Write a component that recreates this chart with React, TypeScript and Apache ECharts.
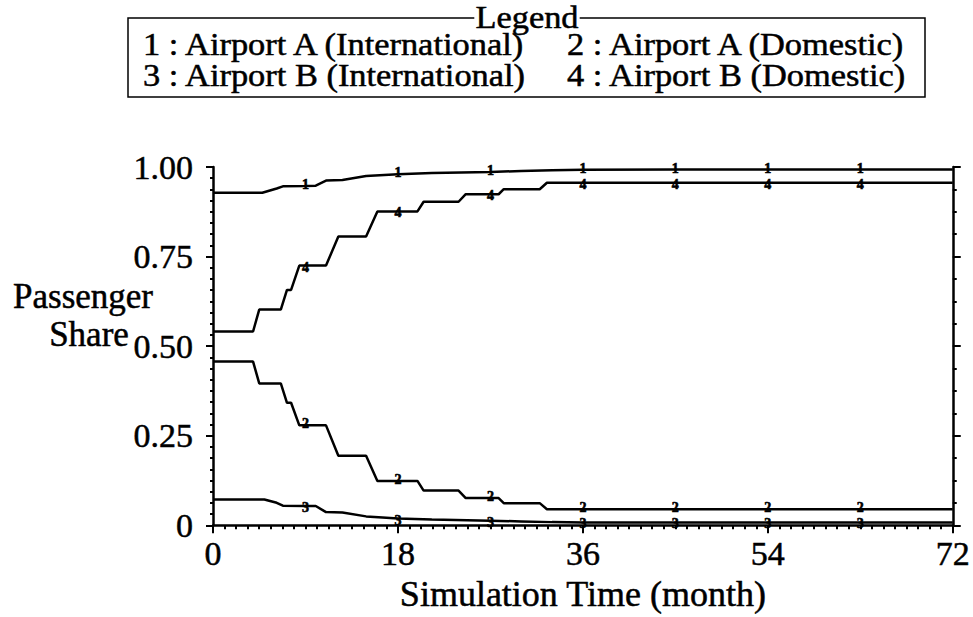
import React, { useEffect, useRef } from "react";
import * as echarts from "echarts";

const FONT = '"Liberation Serif", "Times New Roman", serif';

const markerMonths = [9, 18, 27, 36, 45, 54, 63];
const xTickLabels = [0, 18, 36, 54, 72];
const yTickLabels = [0, 0.25, 0.5, 0.75, 1];

const legendTitle = "Legend";
const seriesNames = [
  "1 : Airport A (International)",
  "2 : Airport A (Domestic)",
  "3 : Airport B (International)",
  "4 : Airport B (Domestic)",
];
const seriesTags = ["1", "2", "3", "4"];

// Airport A (International)
const line1: number[][] = [
  [0, 0.928], [4.8, 0.928], [6.2, 0.94], [6.8, 0.946], [9, 0.947], [10, 0.948],
  [11, 0.962], [12.6, 0.964], [14.9, 0.975], [18, 0.98], [21.3, 0.983], [27, 0.986],
  [30, 0.989], [33, 0.991], [36, 0.992], [45, 0.993], [54, 0.993], [63, 0.993], [72, 0.993],
];
// Airport A (Domestic)
const line2: number[][] = [
  [0, 0.457], [3.9, 0.457], [4.5, 0.396], [6.6, 0.396], [7.2, 0.342], [7.6, 0.342],
  [8.4, 0.279], [9, 0.279], [11.0, 0.279], [12.2, 0.194], [14.9, 0.194], [16.0, 0.124],
  [18, 0.124], [19.9, 0.124], [20.5, 0.097], [23.9, 0.097], [24.6, 0.076], [27, 0.076],
  [27.8, 0.076], [28.3, 0.062], [31.8, 0.062], [32.5, 0.045], [36, 0.045], [45, 0.045],
  [54, 0.045], [63, 0.045], [72, 0.045],
];
// Airport B (International)
const line3: number[][] = [
  [0, 0.072], [5.0, 0.072], [6.2, 0.063], [6.8, 0.055], [9, 0.054], [10.0, 0.054],
  [11.0, 0.037], [12.6, 0.036], [14.9, 0.025], [16.5, 0.022], [18, 0.019], [21.3, 0.016],
  [27, 0.013], [30, 0.011], [33, 0.009], [36, 0.008], [45, 0.008], [54, 0.008],
  [63, 0.008], [72, 0.008],
];
// Airport B (Domestic)
const line4: number[][] = [
  [0, 0.541], [3.9, 0.541], [4.5, 0.602], [6.6, 0.602], [7.2, 0.657], [7.6, 0.657],
  [8.4, 0.725], [9, 0.725], [11.0, 0.725], [12.2, 0.806], [14.9, 0.806], [16.0, 0.876],
  [18, 0.876], [19.9, 0.876], [20.5, 0.903], [23.9, 0.903], [24.6, 0.924], [27, 0.924],
  [27.8, 0.924], [28.3, 0.938], [31.8, 0.938], [32.5, 0.956], [36, 0.956], [45, 0.956],
  [54, 0.956], [63, 0.956], [72, 0.956],
];
const seriesData = [line1, line2, line3, line4];
// small vertical nudges of the marker digits so that close lines keep readable tags
const tagOffsets = [-1.5, -1.5, 1.5, 1.5];

export default function App() {
  const ref = useRef<HTMLDivElement>(null);
  useEffect(() => {
    if (!ref.current) return;
    const chart = echarts.init(ref.current, null, { renderer: "svg" });
    const black = "#000";
    const thick = { textBorderColor: black, textBorderWidth: 0.5 };
    const textBase = { fontFamily: FONT, color: black, ...thick };

    const series = seriesData.map((d, i) => ({
      type: "line",
      name: seriesNames[i],
      xAxisIndex: 0,
      yAxisIndex: 0,
      symbol: "circle",
      symbolSize: 0,
      showAllSymbol: true,
      lineStyle: { color: black, width: 2.5 },
      itemStyle: { color: black },
      label: { show: false },
      emphasis: { disabled: true },
      data: d.map(([x, y]) =>
        markerMonths.includes(x)
          ? {
              value: [x, y],
              label: {
                show: true,
                position: "inside",
                offset: [0, tagOffsets[i]],
                formatter: seriesTags[i],
                fontFamily: FONT,
                fontWeight: "bold",
                fontSize: 14,
                lineHeight: 12,
                color: black,
                textBorderColor: black,
                textBorderWidth: 0.6,
              },
            }
          : { value: [x, y] }
      ),
    }));

    const textStyle = (text: string, size: number, align: string) => ({
      text,
      font: `${size}px ${FONT}`,
      fill: black,
      stroke: black,
      lineWidth: 0.5,
      textAlign: align,
      textVerticalAlign: "middle",
    });

    const legendTexts = seriesNames.map((n, i) => ({
      type: "text",
      x: i % 2 === 0 ? 143 : 567,
      y: i < 2 ? 45 : 76,
      scaleX: 1.11,
      style: textStyle(n, 31, "left"),
    }));

    chart.setOption({
      animation: false,
      backgroundColor: "#fff",
      grid: { left: 213, right: 17, top: 167, bottom: 82 },
      xAxis: {
        type: "value",
        min: 0,
        max: 72,
        interval: 18,
        name: "Simulation Time (month)",
        nameLocation: "middle",
        nameGap: 42,
        nameTextStyle: { ...textBase, fontSize: 36 },
        axisLine: { show: true, onZero: false, lineStyle: { color: black, width: 2.5 } },
        axisTick: { show: true, inside: false, length: 8, lineStyle: { color: black, width: 2 } },
        minorTick: { show: true, splitNumber: 16, length: 4, lineStyle: { color: black, width: 2 } },
        splitLine: { show: false },
        axisLabel: {
          ...textBase,
          fontSize: 34,
          margin: 11,
          formatter: (v: number) => (xTickLabels.includes(v) ? String(v) : ""),
        },
      },
      yAxis: [
        {
          type: "value",
          min: 0,
          max: 1,
          interval: 0.25,
          position: "left",
          axisLine: { show: true, onZero: false, lineStyle: { color: black, width: 2.5 } },
          axisTick: { show: true, inside: false, length: 7, lineStyle: { color: black, width: 2 } },
          minorTick: { show: true, splitNumber: 8, length: 3, lineStyle: { color: black, width: 2 } },
          splitLine: { show: false },
          axisLabel: {
            ...textBase,
            fontSize: 34,
            margin: 20,
            formatter: (v: number) =>
              yTickLabels.includes(v) ? (v === 0 ? "0" : v.toFixed(2)) : "",
          },
        },
        {
          type: "value",
          min: 0,
          max: 1,
          interval: 0.25,
          position: "right",
          axisLine: { show: true, onZero: false, lineStyle: { color: black, width: 2.5 } },
          axisTick: { show: true, inside: false, length: 8, lineStyle: { color: black, width: 2 } },
          minorTick: { show: true, splitNumber: 4, length: 4, lineStyle: { color: black, width: 2 } },
          splitLine: { show: false },
          axisLabel: { show: false },
        },
      ],
      series,
      graphic: [
        {
          type: "rect",
          shape: { x: 128, y: 18, width: 797, height: 79 },
          style: { fill: "none", stroke: black, lineWidth: 1.5 },
        },
        {
          type: "text",
          x: 527,
          y: 18,
          scaleX: 1.11,
          style: {
            ...textStyle(legendTitle, 31, "center"),
            backgroundColor: "#fff",
            padding: [0, 1],
          },
        },
        ...legendTexts,
        { type: "text", x: 83, y: 296, style: textStyle("Passenger", 35, "center") },
        { type: "text", x: 89, y: 334, style: textStyle("Share", 35, "center") },
      ],
    });
    return () => chart.dispose();
  }, []);
  return (
    <div
      ref={ref}
      style={{ position: "fixed", left: 0, top: 0, width: 973, height: 617, background: "#fff" }}
    />
  );
}
